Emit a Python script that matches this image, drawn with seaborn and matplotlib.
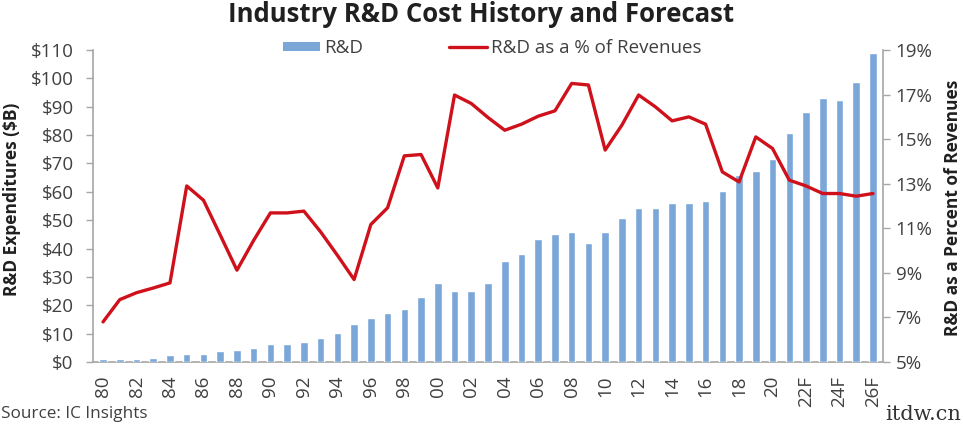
import matplotlib
matplotlib.use("Agg")
import matplotlib.pyplot as plt
import seaborn as sns
import numpy as np
import pandas as pd
from matplotlib.patches import Patch
from matplotlib.lines import Line2D
from matplotlib.ticker import FuncFormatter, FixedLocator

years = ["80", "81", "82", "83", "84", "85", "86", "87", "88", "89",
         "90", "91", "92", "93", "94", "95", "96", "97", "98", "99",
         "00", "01", "02", "03", "04", "05", "06", "07", "08", "09",
         "10", "11", "12", "13", "14", "15", "16", "17", "18", "19",
         "20", "21", "22F", "23F", "24F", "25F", "26F"]

rd_spend = [1.0, 0.9, 1.0, 1.5, 2.4, 2.9, 2.9, 3.8, 4.4, 5.1,
            6.2, 6.2, 7.2, 8.5, 10.4, 13.3, 15.5, 17.4, 18.8, 22.9,
            27.9, 25.1, 25.1, 27.9, 35.6, 38.2, 43.2, 45.3, 45.9, 41.9,
            45.9, 50.6, 54.4, 54.4, 56.2, 56.2, 56.8, 60.4, 65.9, 67.4,
            71.5, 80.6, 88.2, 93.2, 92.4, 98.6, 109.1]

rd_pct = [6.80, 7.80, 8.11, 8.32, 8.55, 12.90, 12.26, 10.70, 9.12, 10.46,
          11.69, 11.69, 11.77, 10.84, 9.79, 8.70, 11.17, 11.92, 14.25, 14.31,
          12.81, 16.98, 16.60, 15.97, 15.40, 15.67, 16.03, 16.27, 17.50, 17.43,
          14.51, 15.63, 16.98, 16.45, 15.82, 16.00, 15.67, 13.53, 13.08, 15.10,
          14.58, 13.16, 12.90, 12.56, 12.56, 12.44, 12.56]

title = "Industry R&D Cost History and Forecast"
left_label = "R&D Expenditures ($B)"
right_label = "R&D as a Percent of Revenues"
legend_labels = ["R&D", "R&D as a % of Revenues"]
source = "Source: IC Insights"

BAR = "#7AA7D8"
RED = "#CF111C"
AXC = "#A6A6A6"
TXT = "#404040"

sns.set_theme(style="white")
plt.rcParams["font.family"] = ["Open Sans", "DejaVu Sans"]

df = pd.DataFrame({"year": years, "spend": rd_spend, "pct": rd_pct,
                   "pos": np.arange(len(years))})

fig = plt.figure(figsize=(9.63, 4.26), dpi=100)
ax = fig.add_axes([93 / 963, 1 - 362 / 426, (883 - 93) / 963, (362 - 50) / 426])

sns.barplot(data=df, x="year", y="spend", color=BAR, saturation=1,
            width=0.45, ax=ax, order=years, zorder=3)
ax.set_xlim(-0.6, len(years) - 0.4)
ax.set_ylim(0, 110)
ax.set_yticks(np.arange(0, 111, 10))
ax.yaxis.set_major_formatter(FuncFormatter(lambda v, p: f"${int(v)}"))
ax.set_xlabel("")
ax.set_ylabel(left_label, fontsize=12.5, fontweight="bold", color="#202020")
ax.yaxis.set_label_coords((21 - 93) / 790, (362 - 199) / 312)

ax.set_xticks(np.arange(0, len(years), 2))
ax.set_xticklabels(years[::2], rotation=90, fontsize=13.5, color=TXT)
ax.xaxis.set_minor_locator(FixedLocator(np.arange(-0.5, len(years), 1.0)))
ax.tick_params(axis="x", which="major", length=0, pad=10)
ax.tick_params(axis="x", which="minor", length=4, color=AXC, width=1, direction="out")
ax.tick_params(axis="y", length=5, color=AXC, width=1, direction="out",
               labelsize=13.5, labelcolor=TXT, left=True, pad=9)

for s in ["top", "right"]:
    ax.spines[s].set_visible(False)
for s in ["left", "bottom"]:
    ax.spines[s].set_color(AXC)
    ax.spines[s].set_linewidth(1.2)
    ax.spines[s].set_zorder(2)

ax2 = ax.twinx()
sns.lineplot(data=df, x="pos", y="pct", color=RED, linewidth=2.4, ax=ax2)
ax2.set_ylim(5, 19)
ax2.set_yticks(np.arange(5, 20, 2))
ax2.yaxis.set_major_formatter(FuncFormatter(lambda v, p: f"{int(v)}%"))
ax2.set_ylabel(right_label, fontsize=12.5, fontweight="bold", color="#202020")
ax2.yaxis.set_label_coords((944 - 93) / 790, (362 - 208) / 312)
ax2.set_xlim(-0.6, len(years) - 0.4)
ax2.tick_params(axis="y", length=5, color=AXC, width=1, direction="out",
                labelsize=13.5, labelcolor=TXT, right=True, pad=4)
for s in ["top", "left", "bottom"]:
    ax2.spines[s].set_visible(False)
ax2.spines["right"].set_color(AXC)
ax2.spines["right"].set_linewidth(1.2)
ax2.set_xlabel("")

handles = [Patch(facecolor=BAR, edgecolor="none"),
           Line2D([0], [0], color=RED, linewidth=2.4)]
fig.legend(handles, legend_labels, loc="center", bbox_to_anchor=(492 / 963, 1 - 48 / 426),
           ncol=2, frameon=False, fontsize=13.5, handlelength=2.0, handleheight=0.4,
           columnspacing=4.6, handletextpad=0.2, labelcolor=TXT)

fig.text(0.5, 1 - 14 / 426, title, ha="center", va="center",
         fontsize=18.5, fontweight="bold", color="#202020")
fig.text(1 / 963, 1 - 414 / 426, source, ha="left", va="center", fontsize=12.3, color=TXT)
fig.text(961 / 963, 1 - 414 / 426, "itdw.cn", ha="right", va="center",
         fontsize=15, color="#333333", family=["DejaVu Serif"])

fig.savefig("out.png", dpi=100)
